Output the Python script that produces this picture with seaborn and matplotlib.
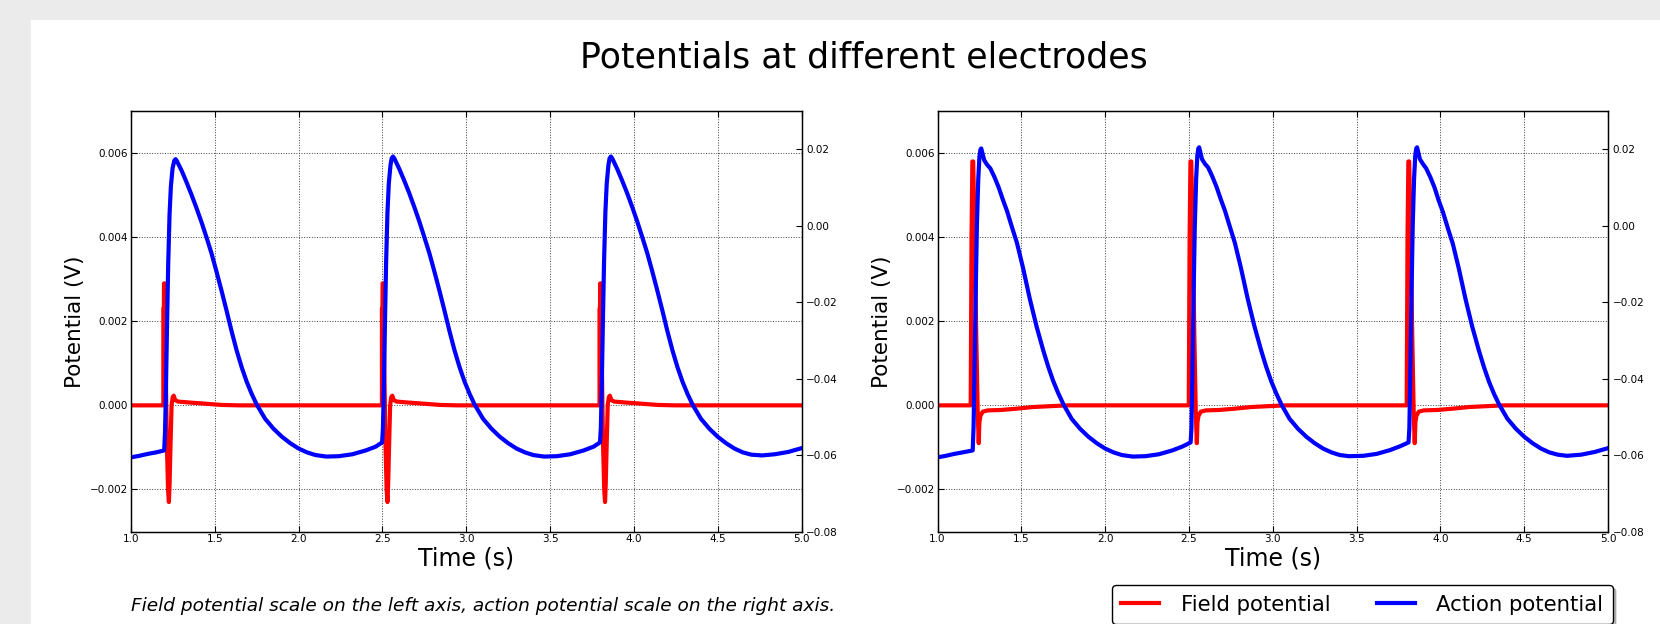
import matplotlib
matplotlib.use("Agg")
import matplotlib.pyplot as plt
from matplotlib.patches import Rectangle
import seaborn as sns

# ---- data ----
x_ticks = [1.0, 1.5, 2.0, 2.5, 3.0, 3.5, 4.0, 4.5, 5.0]
fp_ticks = [-0.002, 0.0, 0.002, 0.004, 0.006]
ap_ticks = [-0.08, -0.06, -0.04, -0.02, 0.0, 0.02]

# left panel, field potential (left axis)
t_field_left = [1.000, 1.193, 1.193, 1.196, 1.197, 1.201, 1.207, 1.214, 1.221, 1.226, 1.230, 1.236, 1.242, 1.249,
                1.255, 1.263, 1.280, 1.340, 1.440, 1.540, 1.640,
                2.497, 2.497, 2.500, 2.501, 2.505, 2.511, 2.518, 2.525, 2.530, 2.534, 2.540, 2.546, 2.553,
                2.559, 2.567, 2.584, 2.644, 2.744, 2.844, 2.944,
                3.795, 3.795, 3.798, 3.799, 3.803, 3.809, 3.816, 3.823, 3.828, 3.832, 3.838, 3.844, 3.851,
                3.857, 3.865, 3.882, 3.942, 4.042, 4.142, 4.242, 5.000]
v_field_left = [0.0, 0.0, 0.0023, 0.0023, 0.0029, 0.0029, 0.0009, -0.0009, -0.0020, -0.0023, -0.0019, -0.0009, 0.0, 0.0002,
                0.00023, 0.00013, 0.00009, 0.00007, 0.00004, 0.00001, 0.0,
                0.0, 0.0023, 0.0023, 0.0029, 0.0029, 0.0009, -0.0009, -0.0020, -0.0023, -0.0019, -0.0009, 0.0, 0.0002,
                0.00023, 0.00013, 0.00009, 0.00007, 0.00004, 0.00001, 0.0,
                0.0, 0.0023, 0.0023, 0.0029, 0.0029, 0.0009, -0.0009, -0.0020, -0.0023, -0.0019, -0.0009, 0.0, 0.0002,
                0.00023, 0.00013, 0.00009, 0.00007, 0.00004, 0.00001, 0.0, 0.0]

# left panel, action potential (right axis)
t_action_left = [1.000, 1.050, 1.100, 1.150, 1.198, 1.203, 1.208, 1.215, 1.222, 1.230, 1.238, 1.248, 1.258, 1.266,
                 1.274, 1.285, 1.302, 1.330, 1.360, 1.390, 1.420, 1.450, 1.480, 1.510, 1.540, 1.570, 1.600, 1.630,
                 1.660, 1.690, 1.720, 1.750, 1.800, 1.850, 1.900, 1.950, 2.000, 2.050, 2.100, 2.165, 2.240, 2.320,
                 2.400, 2.460, 2.498,
                 2.503, 2.508, 2.515, 2.522, 2.530, 2.538, 2.548, 2.555, 2.563, 2.572, 2.585, 2.602, 2.630, 2.660,
                 2.690, 2.720, 2.750, 2.780, 2.810, 2.840, 2.870, 2.900, 2.930, 2.960, 2.990, 3.020, 3.050, 3.100,
                 3.150, 3.200, 3.250, 3.300, 3.350, 3.400, 3.465, 3.540, 3.620, 3.700, 3.760, 3.798,
                 3.803, 3.808, 3.815, 3.822, 3.830, 3.838, 3.848, 3.855, 3.863, 3.872, 3.885, 3.902, 3.930, 3.960,
                 3.990, 4.020, 4.050, 4.080, 4.110, 4.140, 4.170, 4.200, 4.230, 4.260, 4.290, 4.320, 4.350, 4.400,
                 4.450, 4.500, 4.550, 4.600, 4.650, 4.700, 4.765, 4.840, 4.920, 5.000]
v_action_left = [-0.0606, -0.0602, -0.0597, -0.0593, -0.0588, -0.0540, -0.0440, -0.0260, -0.0100, 0.0030, 0.0103,
                 0.0150, 0.0170, 0.0174, 0.0169, 0.0159, 0.0144, 0.0115, 0.0082, 0.0047, 0.0010, -0.0030, -0.0072,
                 -0.0120, -0.0170, -0.0222, -0.0276, -0.0326, -0.0370, -0.0408, -0.0440, -0.0468, -0.0505, -0.0531,
                 -0.0552, -0.0569, -0.0583, -0.0593, -0.0600, -0.0604, -0.0603, -0.0598, -0.0588, -0.0578, -0.0567,
                 -0.0530, -0.0430, -0.0255, -0.0095, 0.0035, 0.0110, 0.0158, 0.0176, 0.0181, 0.0175, 0.0163,
                 0.0147, 0.0118, 0.0085, 0.0049, 0.0011, -0.0030, -0.0072, -0.0120, -0.0170, -0.0222, -0.0276,
                 -0.0326, -0.0370, -0.0408, -0.0440, -0.0468, -0.0505, -0.0531, -0.0552, -0.0569, -0.0583, -0.0593,
                 -0.0600, -0.0604, -0.0603, -0.0598, -0.0588, -0.0578, -0.0567,
                 -0.0530, -0.0430, -0.0255, -0.0095, 0.0035, 0.0110, 0.0158, 0.0176, 0.0181, 0.0175, 0.0163,
                 0.0147, 0.0118, 0.0085, 0.0049, 0.0011, -0.0030, -0.0072, -0.0120, -0.0170, -0.0222, -0.0276,
                 -0.0326, -0.0370, -0.0408, -0.0440, -0.0468, -0.0505, -0.0531, -0.0552, -0.0569, -0.0583, -0.0593,
                 -0.0599, -0.0601, -0.0598, -0.0592, -0.0582]

# right panel, field potential (left axis)
t_field_right = [1.000, 1.198, 1.203, 1.208, 1.213, 1.221, 1.231, 1.240, 1.246, 1.250, 1.256, 1.270, 1.300, 1.380,
                 1.470, 1.570, 1.670, 1.780,
                 2.499, 2.504, 2.509, 2.514, 2.522, 2.532, 2.541, 2.547, 2.551, 2.557, 2.571, 2.601, 2.681,
                 2.771, 2.871, 2.971, 3.081,
                 3.799, 3.804, 3.809, 3.814, 3.822, 3.832, 3.841, 3.847, 3.851, 3.857, 3.871, 3.901, 3.981,
                 4.071, 4.171, 4.271, 4.381, 5.000]
v_field_right = [0.0, 0.0, 0.0040, 0.0058, 0.0058, 0.0042, 0.0017, -0.0002, -0.0009, -0.0004, -0.00025, -0.00015,
                 -0.00012, -0.00011, -0.00008, -0.00004, -0.00002, 0.0,
                 0.0, 0.0040, 0.0058, 0.0058, 0.0042, 0.0017, -0.0002, -0.0009, -0.0004, -0.00025, -0.00015,
                 -0.00012, -0.00011, -0.00008, -0.00004, -0.00002, 0.0,
                 0.0, 0.0040, 0.0058, 0.0058, 0.0042, 0.0017, -0.0002, -0.0009, -0.0004, -0.00025, -0.00015,
                 -0.00012, -0.00011, -0.00008, -0.00004, -0.00002, 0.0, 0.0]

# right panel, action potential (right axis)
t_action_right = [1.000, 1.050, 1.100, 1.150, 1.210, 1.215, 1.220, 1.227, 1.235, 1.243, 1.250, 1.256, 1.261, 1.268,
                  1.278, 1.295, 1.315, 1.340, 1.365, 1.390, 1.415, 1.445, 1.474, 1.510, 1.550, 1.590, 1.630, 1.660,
                  1.690, 1.720, 1.752, 1.800, 1.850, 1.900, 1.950, 2.000, 2.050, 2.100, 2.165, 2.240, 2.320, 2.400,
                  2.460, 2.510,
                  2.515, 2.520, 2.527, 2.535, 2.543, 2.550, 2.556, 2.561, 2.568, 2.578, 2.595, 2.615, 2.640, 2.665,
                  2.690, 2.715, 2.745, 2.774, 2.810, 2.850, 2.890, 2.930, 2.960, 2.990, 3.020, 3.052, 3.100, 3.150,
                  3.200, 3.250, 3.300, 3.350, 3.400, 3.455, 3.540, 3.620, 3.700, 3.760, 3.810,
                  3.815, 3.820, 3.827, 3.835, 3.843, 3.850, 3.856, 3.861, 3.868, 3.878, 3.895, 3.915, 3.940, 3.965,
                  3.990, 4.015, 4.045, 4.074, 4.110, 4.150, 4.190, 4.230, 4.260, 4.290, 4.320, 4.352, 4.400, 4.450,
                  4.500, 4.550, 4.600, 4.650, 4.700, 4.755, 4.840, 4.920, 5.000]
v_action_right = [-0.0606, -0.0602, -0.0597, -0.0593, -0.0588, -0.0530, -0.0400, -0.0200, 0.0000, 0.0120, 0.0180,
                  0.0199, 0.0202, 0.0190, 0.0172, 0.0160, 0.0150, 0.0127, 0.0100, 0.0068, 0.0038, -0.0005, -0.0045,
                  -0.0110, -0.0190, -0.0262, -0.0325, -0.0368, -0.0406, -0.0438, -0.0468, -0.0505, -0.0531, -0.0552,
                  -0.0569, -0.0583, -0.0593, -0.0600, -0.0604, -0.0603, -0.0598, -0.0588, -0.0578, -0.0567,
                  -0.0530, -0.0400, -0.0200, 0.0000, 0.0122, 0.0183, 0.0202, 0.0205, 0.0192, 0.0174, 0.0162,
                  0.0152, 0.0128, 0.0101, 0.0069, 0.0039, -0.0004, -0.0045, -0.0110, -0.0190, -0.0262, -0.0325,
                  -0.0368, -0.0406, -0.0438, -0.0468, -0.0505, -0.0531, -0.0552, -0.0569, -0.0583, -0.0593, -0.0600,
                  -0.0603, -0.0602, -0.0597, -0.0587, -0.0577, -0.0567,
                  -0.0530, -0.0400, -0.0200, 0.0000, 0.0122, 0.0183, 0.0202, 0.0205, 0.0192, 0.0174, 0.0162,
                  0.0150, 0.0127, 0.0100, 0.0066, 0.0036, -0.0007, -0.0047, -0.0112, -0.0192, -0.0264, -0.0327,
                  -0.0370, -0.0408, -0.0440, -0.0469, -0.0505, -0.0531, -0.0552, -0.0569, -0.0583, -0.0593,
                  -0.0599, -0.0602, -0.0599, -0.0592, -0.0582]

labels = ["Field potential", "Action potential"]

W, H = 1660, 624
fig = plt.figure(figsize=(W / 100, H / 100), dpi=100)
fig.patch.set_facecolor("#ebebeb")
fig.add_artist(Rectangle((31 / W, 0), 1, 1 - 20 / H, transform=fig.transFigure,
                         facecolor="white", edgecolor="none", zorder=-10))


def panel(left_px, t_fp, v_fp, t_ap, v_ap):
    ax = fig.add_axes([left_px / W, 1 - 531.5 / H, 670.5 / W, 420.5 / H])
    sns.lineplot(x=t_fp, y=v_fp, ax=ax, color="red", linewidth=3, estimator=None, sort=False)
    ax.set_xlim(1, 5)
    ax.set_ylim(-0.003, 0.007)
    ax.set_xticks(x_ticks)
    ax.set_yticks(fp_ticks)
    ax.grid(True, linestyle=":", color="0.25", linewidth=0.7)
    ax.tick_params(direction="in", length=4, labelsize=7.5, pad=2, top=True)
    for s in ax.spines.values():
        s.set_color("black")
        s.set_linewidth(1.0)
    ax.set_xlabel("Time (s)", fontsize=17)
    ax.set_ylabel("Potential (V)", fontsize=15.5)
    ax.xaxis.set_label_coords(0.5, -0.036)
    ax.yaxis.set_label_coords(-0.068, 0.5)

    ax2 = ax.twinx()
    sns.lineplot(x=t_ap, y=v_ap, ax=ax2, color="blue", linewidth=3, estimator=None, sort=False)
    ax2.set_ylim(-0.08, 0.03)
    ax2.set_yticks(ap_ticks)
    ax2.set_ylabel("")
    ax2.tick_params(direction="in", length=4, labelsize=7.5, pad=3.5)
    return ax, ax2


axL, axL2 = panel(131, t_field_left, v_field_left, t_action_left, v_action_left)
axR, axR2 = panel(937.5, t_field_right, v_field_right, t_action_right, v_action_right)

fig.text(864 / W, 1 - 58 / H, "Potentials at different electrodes", ha="center", va="center", fontsize=25)
fig.text(131 / W, 1 - 606 / H,
         "Field potential scale on the left axis, action potential scale on the right axis.",
         ha="left", va="center", fontsize=13.3, style="italic")

handles = [axR.lines[0], axR2.lines[0]]
fig.legend(handles, labels, ncol=2, loc="upper right", bbox_to_anchor=(1613 / W, 1 - 585 / H),
           fontsize=15.3, handlelength=1.8, handletextpad=1.0, columnspacing=2.2, borderpad=0.45,
           borderaxespad=0, frameon=True, fancybox=True, edgecolor="black", framealpha=1,
           shadow={"color": "0.5", "alpha": 0.5})

fig.savefig("out.png", dpi=100)
